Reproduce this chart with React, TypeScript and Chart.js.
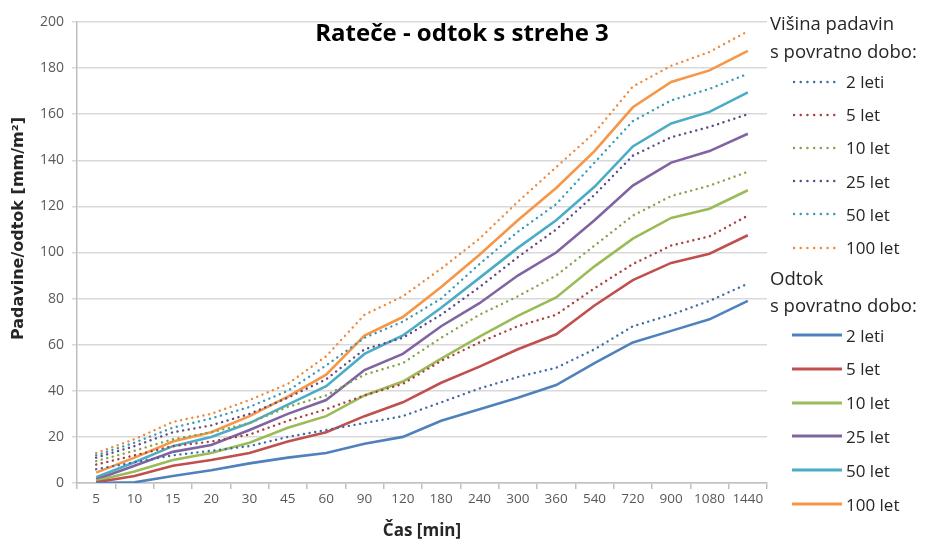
import React, { useEffect, useRef } from 'react';
import { Chart, registerables } from 'chart.js';

Chart.register(...registerables);

const categories = ['5', '10', '15', '20', '30', '45', '60', '90', '120', '180', '240', '300', '360', '540', '720', '900', '1080', '1440'];

// Višina padavin (dotted)
const precip2 = [6, 9, 12, 14, 16, 20, 23, 26, 29, 35, 41, 46, 50, 58, 68, 73, 79, 86.5];
const precip5 = [8, 12, 16, 18, 21, 27, 32, 38, 43, 53, 61, 68, 73, 84.5, 95, 103, 107, 116];
const precip10 = [9.5, 14, 19, 22, 26, 33, 38, 47, 52, 63, 73, 81, 90, 103, 116, 124.5, 129, 135];
const precip25 = [11, 16, 22, 25, 30, 37, 45, 58, 63, 73, 85, 98, 110, 125, 142, 150, 154.5, 160];
const precip50 = [12, 17.5, 24, 28, 33, 40, 51, 63, 70, 80, 95, 109, 121, 139, 157, 166, 171, 177.5];
const precip100 = [13, 19, 26.5, 30, 36, 43, 55, 73, 81, 93, 106, 122, 137, 152, 172, 181, 187, 196];

// Odtok (solid)
const runoff2 = [0, 0.3, 3, 5.5, 8.5, 11, 13, 17, 20, 27, 32, 37, 42.5, 52, 61, 66, 71, 79];
const runoff5 = [0.3, 3, 7.5, 10, 13, 18, 22, 29, 35, 43.5, 50.5, 58, 64.5, 77, 88, 95.5, 99.5, 107.5];
const runoff10 = [1, 5, 10, 13, 17.5, 24, 29, 38, 44, 54, 63.5, 72.5, 80.5, 94, 106, 115, 119, 127];
const runoff25 = [1.5, 7.5, 13.5, 16.5, 23, 30, 36, 49, 56, 68, 78, 90, 100, 114, 129, 139, 144, 151.5];
const runoff50 = [2.5, 9, 16, 20, 26, 34, 42, 56, 64, 76, 89, 102, 114, 128.5, 146, 156, 161, 169.5];
const runoff100 = [4.5, 11, 18, 22, 29, 37.5, 47, 64, 72, 85, 99, 114, 128, 144, 163, 174, 179, 187.5];

const periodLabels = ['2 leti', '5 let', '10 let', '25 let', '50 let', '100 let'];
const solidColors = ['#4F81BD', '#C0504D', '#9BBB59', '#8064A2', '#4BACC6', '#F79646'];
const dottedColors = ['#3E6CA6', '#A9403D', '#86A24A', '#5F4B87', '#3A9AB4', '#EC8A3E'];

const precipSeries = [precip2, precip5, precip10, precip25, precip50, precip100];
const runoffSeries = [runoff2, runoff5, runoff10, runoff25, runoff50, runoff100];

const yTicks = [0, 20, 40, 60, 80, 100, 120, 140, 160, 180, 200];

const titleText = 'Rateče - odtok s strehe 3';
const yTitleText = 'Padavine/odtok [mm/m²]';
const FONT = "'Open Sans', 'DejaVu Sans', sans-serif";

const textPlugin = {
  id: 'innerTexts',
  afterDraw(chart: any) {
    const { ctx, chartArea } = chart;
    ctx.save();
    ctx.font = `bold 24px ${FONT}`;
    ctx.fillStyle = '#000000';
    ctx.textAlign = 'center';
    ctx.textBaseline = 'middle';
    const cx = (chartArea.left + chartArea.right) / 2 + 40;
    ctx.fillText(titleText, cx, chartArea.top + 12);
    ctx.restore();

    ctx.save();
    ctx.font = `bold 16px 'DejaVu Sans', sans-serif`;
    ctx.fillStyle = '#262626';
    ctx.textAlign = 'center';
    ctx.textBaseline = 'middle';
    const cy = (chartArea.top + chartArea.bottom) / 2 - 24;
    ctx.translate(19, cy);
    ctx.rotate(-Math.PI / 2);
    ctx.fillText(yTitleText, 0, 0);
    ctx.restore();
  },
};

function LegendSample({ color, dotted }: { color: string; dotted: boolean }) {
  return (
    <svg width={50} height={10} style={{ display: 'block', marginRight: 4 }}>
      {dotted ? (
        <line x1={2} y1={5} x2={48} y2={5} stroke={color} strokeWidth={2.4} strokeLinecap="round" strokeDasharray="0.1 6.6" />
      ) : (
        <line x1={0} y1={5} x2={50} y2={5} stroke={color} strokeWidth={3} />
      )}
    </svg>
  );
}

function LegendGroup({ header1, header2, dotted, colors, headerH, itemH }: any) {
  return (
    <div>
      <div style={{ height: headerH, lineHeight: headerH + 'px', whiteSpace: 'nowrap' }}>{header1}</div>
      <div style={{ height: headerH, lineHeight: headerH + 'px', whiteSpace: 'nowrap' }}>{header2}</div>
      {periodLabels.map((lab, i) => (
        <div key={lab} style={{ height: itemH, display: 'flex', alignItems: 'center', paddingLeft: 22 }}>
          <LegendSample color={colors[i]} dotted={dotted} />
          <span style={{ fontSize: 17 }}>{lab}</span>
        </div>
      ))}
    </div>
  );
}

export default function App() {
  const ref = useRef<HTMLCanvasElement>(null);

  useEffect(() => {
    document.body.style.margin = '0';
    const datasets: any[] = [];
    precipSeries.forEach((d, i) => {
      datasets.push({
        label: 'P ' + periodLabels[i],
        data: d,
        borderColor: dottedColors[i],
        backgroundColor: dottedColors[i],
        borderWidth: 2.4,
        borderDash: [0.1, 5.6],
        borderCapStyle: 'round',
        pointRadius: 0,
        tension: 0,
        fill: false,
      });
    });
    runoffSeries.forEach((d, i) => {
      datasets.push({
        label: 'O ' + periodLabels[i],
        data: d,
        borderColor: solidColors[i],
        backgroundColor: solidColors[i],
        borderWidth: 2.6,
        pointRadius: 0,
        tension: 0,
        fill: false,
      });
    });

    const chart = new Chart(ref.current as HTMLCanvasElement, {
      type: 'line',
      data: { labels: categories, datasets },
      options: {
        responsive: false,
        animation: false,
        layout: { padding: { top: 22, right: 164, left: 0, bottom: 0 } },
        plugins: { legend: { display: false }, tooltip: { enabled: false }, title: { display: false } },
        scales: {
          x: {
            type: 'category',
            offset: true,
            grid: { display: true, drawOnChartArea: false, drawTicks: true, tickLength: 6, offset: true, color: '#bfbfbf', lineWidth: 1.5 },
            border: { display: true, color: '#bfbfbf', width: 1.5 },
            ticks: { color: '#595959', font: { family: FONT, size: 13.5 }, maxRotation: 0, minRotation: 0, autoSkip: false, padding: 2 },
            title: { display: true, text: 'Čas [min]', color: '#262626', font: { family: FONT, size: 17, weight: 'bold' }, padding: { top: 0, bottom: 0 } },
            afterFit(scale: any) { scale.height = 58; },
          },
          y: {
            min: 0,
            max: 200,
            afterBuildTicks(scale: any) { scale.ticks = yTicks.map((v) => ({ value: v })); },
            grid: { color: '#d9d9d9', lineWidth: 1.5, drawTicks: true, tickLength: 5 },
            border: { display: true, color: '#bfbfbf', width: 1.5 },
            ticks: { color: '#595959', font: { family: FONT, size: 14 }, padding: 8 },
            title: { display: false },
            afterFit(scale: any) { scale.width = 77; },
          },
        },
      } as any,
      plugins: [textPlugin],
    });
    return () => chart.destroy();
  }, []);

  return (
    <div style={{ position: 'relative', width: 931, height: 541, background: '#ffffff', fontFamily: FONT, color: '#262626' }}>
      <canvas ref={ref} width={931} height={541} style={{ position: 'absolute', left: 0, top: 0 }} />
      <div style={{ position: 'absolute', left: 770, top: 9, fontSize: 18.5 }}>
        <LegendGroup header1="Višina padavin" header2="s povratno dobo:" dotted={true} colors={dottedColors} headerH={28} itemH={33.2} />
        <LegendGroup header1="Odtok" header2="s povratno dobo:" dotted={false} colors={solidColors} headerH={27} itemH={33.8} />
      </div>
    </div>
  );
}
